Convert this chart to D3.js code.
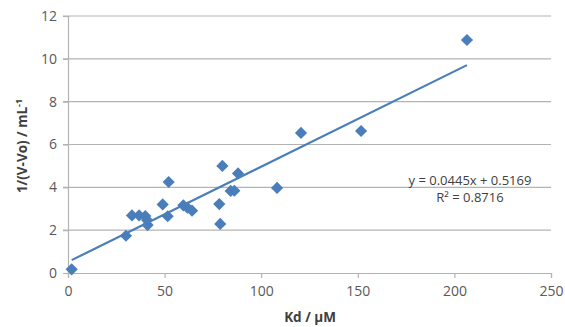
<!DOCTYPE html>
<html lang="en">
<head>
<meta charset="UTF-8">
<script src="https://d3js.org/d3.v7.min.js"></script>
<style>
  body { margin: 0; background: #fff; }
  svg text { font-family: "Open Sans", "Noto Sans", sans-serif; }
</style>
</head>
<body>
<svg id="chart" width="565" height="327"></svg>
<script>
// data
const kd = [1.9, 30, 33.1, 36.8, 40, 40.9, 41.2, 49, 51.6, 52.1, 59.7, 61.8, 64.2,
            78.3, 78.8, 79.9, 84.2, 86.1, 88, 108.2, 120.6, 151.7, 206.5];
const invV = [0.17, 1.74, 2.69, 2.69, 2.66, 2.47, 2.24, 3.2, 2.65, 4.25, 3.16, 3.05, 2.91,
              3.22, 2.29, 5.0, 3.83, 3.84, 4.65, 3.97, 6.54, 6.63, 10.88];
const xTicks = [0, 50, 100, 150, 200, 250];
const yTicks = [0, 2, 4, 6, 8, 10, 12];
const slope = 0.0445, intercept = 0.5169;
const eqLines = ["y = 0.0445x + 0.5169", "R² = 0.8716"];

const svg = d3.select("#chart");
const margin = { top: 16, right: 14, bottom: 54, left: 68 };
const innerW = 551 - margin.left;
const innerH = 273 - margin.top;

const x = d3.scaleLinear().domain([0, 250]).range([0, innerW]);
const y = d3.scaleLinear().domain([0, 12]).range([innerH, 0]);

const g = svg.append("g").attr("transform", `translate(${margin.left},${margin.top})`);

const grid = "#b3b3b3";
const blue = "#4a7ebb";

// horizontal gridlines
g.selectAll(".grid").data(yTicks.filter(d => d > 0)).join("line")
  .attr("x1", -5).attr("x2", innerW)
  .attr("y1", d => y(d)).attr("y2", d => y(d))
  .attr("stroke", grid).attr("stroke-width", 1.2);

// y axis
const yAxis = g.append("g").call(d3.axisLeft(y).tickValues(yTicks).tickSize(5).tickPadding(6));
yAxis.select(".domain").attr("stroke", grid).attr("stroke-width", 1.2);
yAxis.selectAll(".tick line").attr("stroke", grid).attr("stroke-width", 1.2);
yAxis.selectAll("text").attr("fill", "#595959").style("font-size", "14px");

// x axis
const xAxis = g.append("g").attr("transform", `translate(0,${innerH})`)
  .call(d3.axisBottom(x).tickValues(xTicks).tickSize(5).tickPadding(8));
xAxis.select(".domain").attr("stroke", grid).attr("stroke-width", 1.2);
xAxis.selectAll(".tick line").attr("stroke", grid).attr("stroke-width", 1.2);
xAxis.selectAll("text").attr("fill", "#595959").style("font-size", "14px");

// trend line
const x0 = d3.min(kd), x1 = d3.max(kd);
g.append("line")
  .attr("x1", x(x0)).attr("y1", y(slope * x0 + intercept))
  .attr("x2", x(x1)).attr("y2", y(slope * x1 + intercept))
  .attr("stroke", blue).attr("stroke-width", 2.2);

// points
const diamond = d3.symbol().type(d3.symbolDiamond2).size(95);
g.selectAll(".pt").data(kd.map((d, i) => [d, invV[i]])).join("path")
  .attr("d", diamond)
  .attr("transform", d => `translate(${x(d[0])},${y(d[1])})`)
  .attr("fill", blue);

// equation label
g.selectAll(".eq").data(eqLines).join("text")
  .attr("x", 402).attr("y", (d, i) => 169 + i * 17)
  .attr("text-anchor", "middle")
  .attr("fill", "#404040")
  .style("font-size", "13px")
  .text(d => d);

// axis titles
svg.append("text")
  .attr("x", 310).attr("y", 322)
  .attr("text-anchor", "middle")
  .attr("fill", "#404040")
  .style("font-size", "13.5px").style("font-weight", "bold")
  .text("Kd / µM");

const yt = svg.append("text")
  .attr("transform", "translate(27,146) rotate(-90)")
  .attr("text-anchor", "middle")
  .attr("fill", "#404040")
  .style("font-size", "13.5px").style("font-weight", "bold");
yt.append("tspan").text("1/(V-Vo) / mL");
yt.append("tspan").attr("dy", -5).style("font-size", "9px").text("-1");
</script>
</body>
</html>
